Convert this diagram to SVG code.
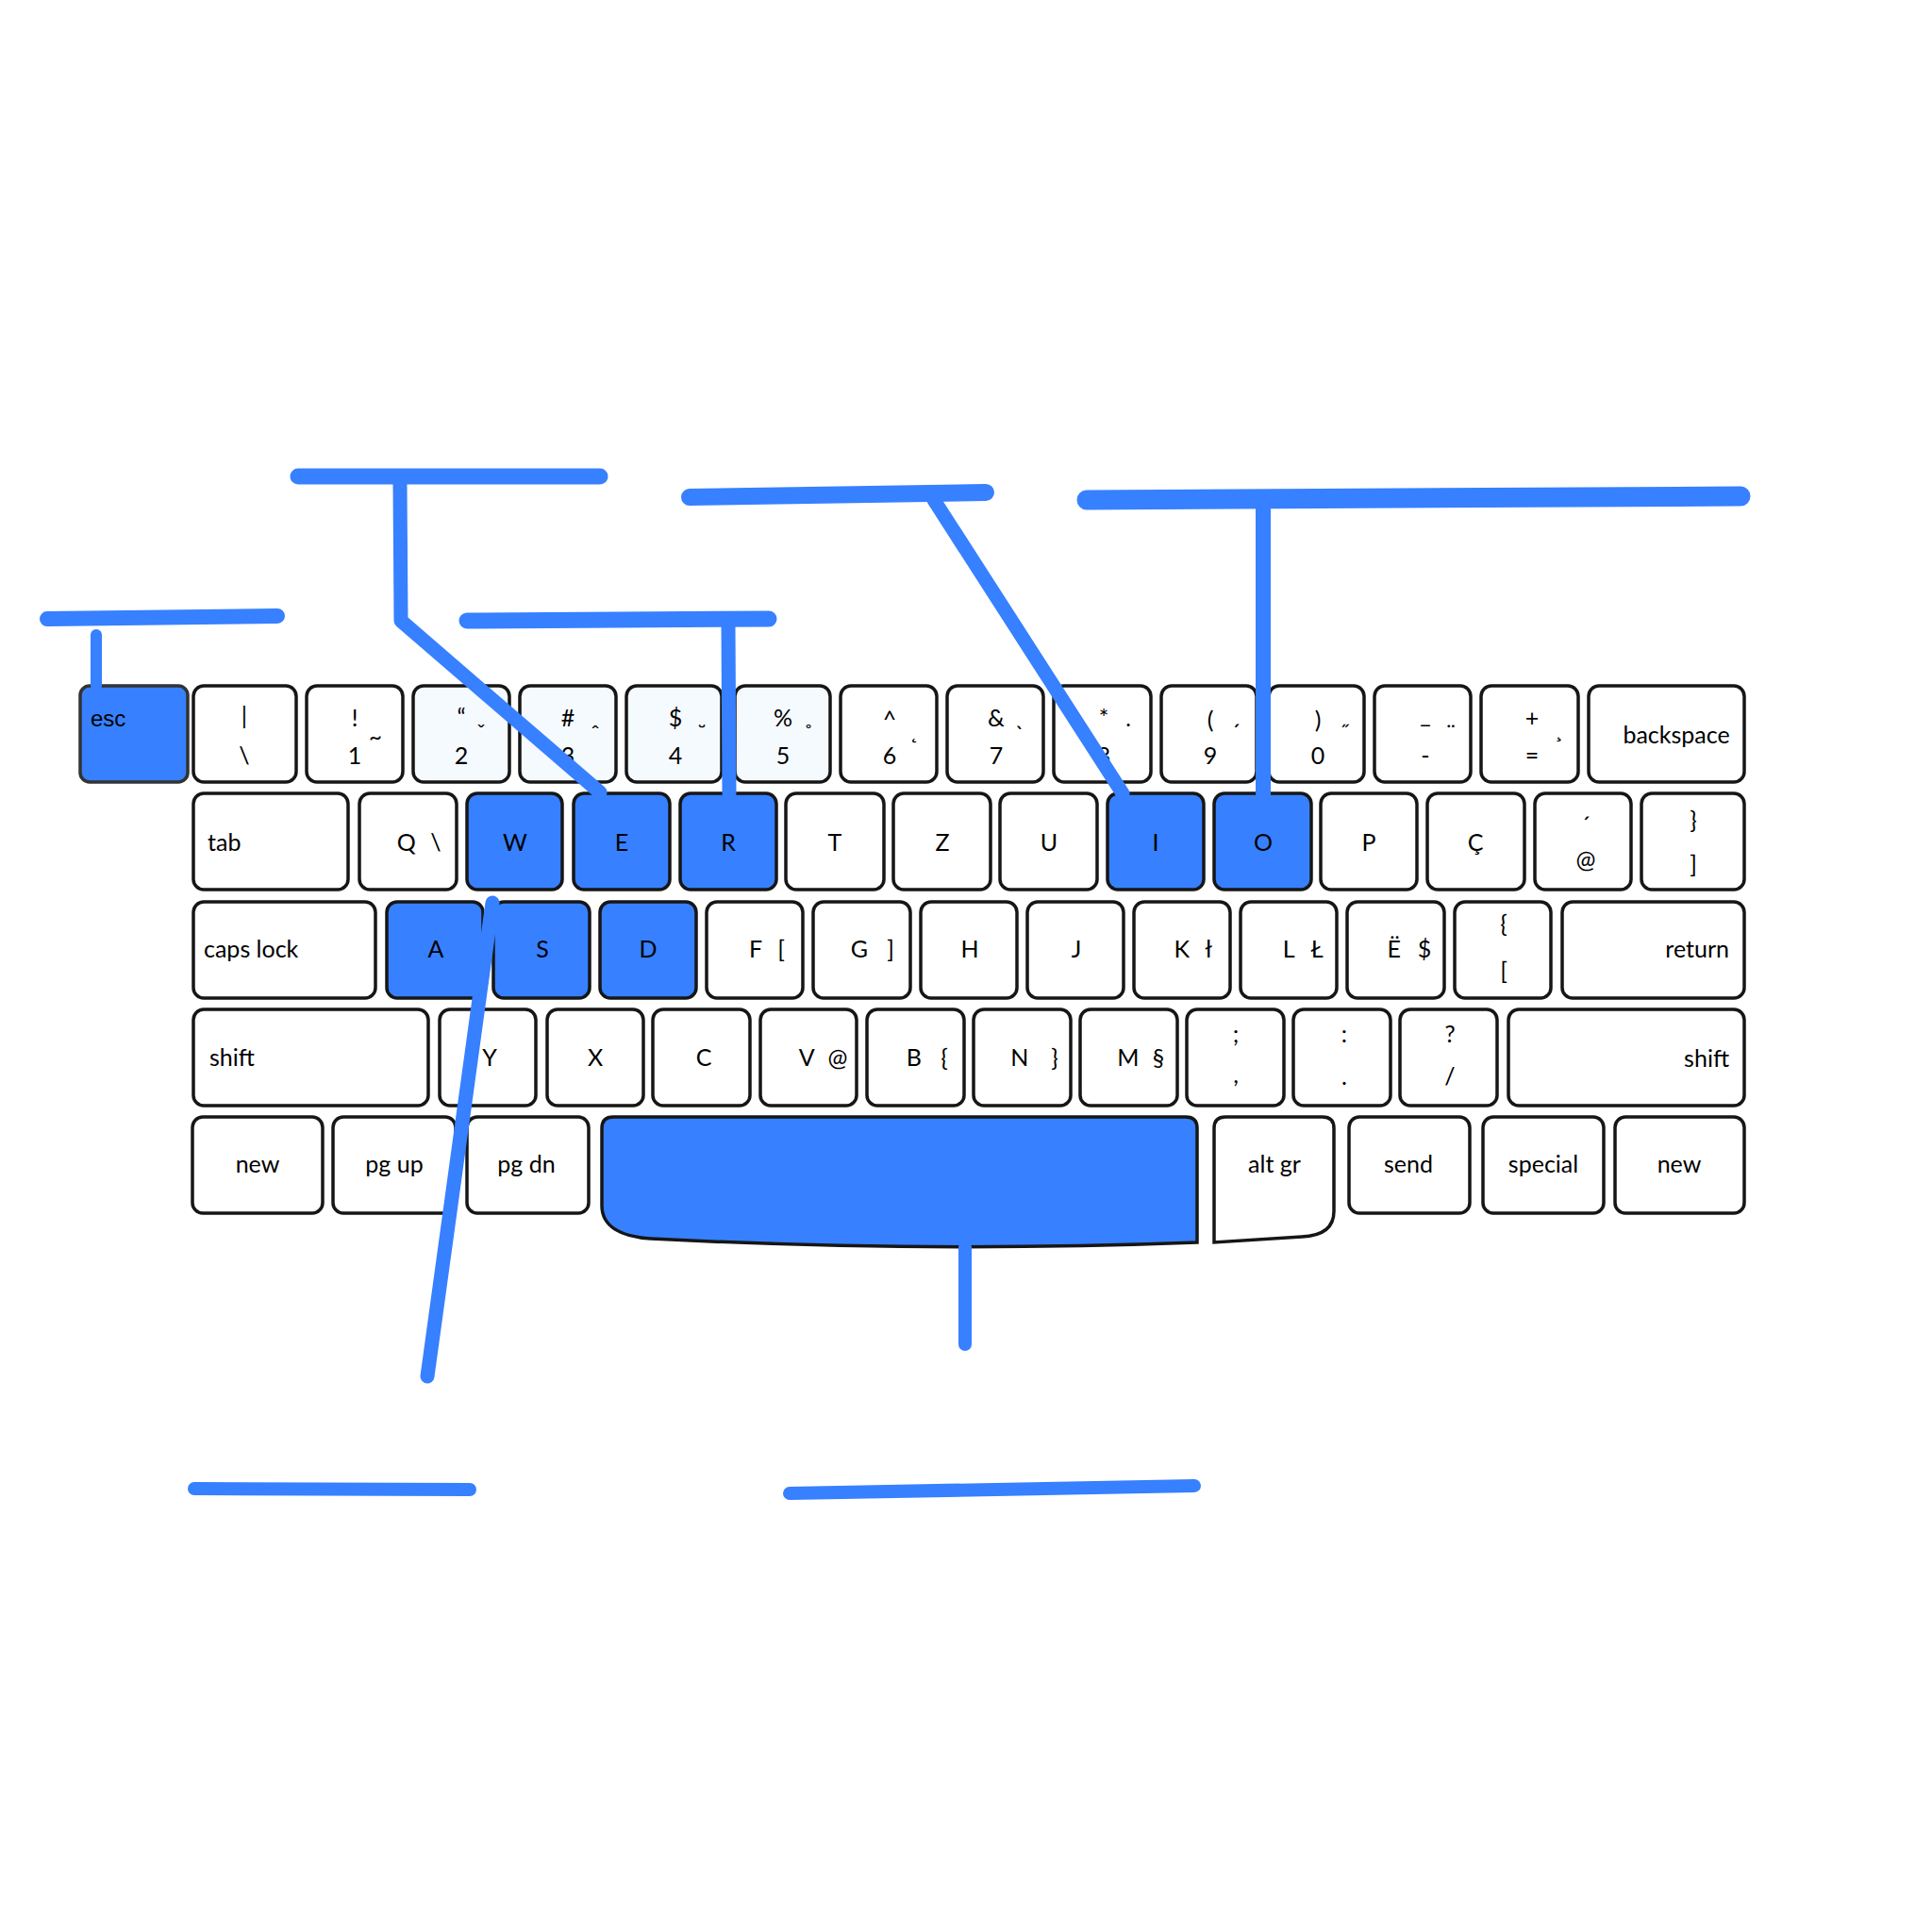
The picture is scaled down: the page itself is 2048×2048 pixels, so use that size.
<svg xmlns="http://www.w3.org/2000/svg" width="2048" height="2048" viewBox="0 0 2048 2048">
<style>
.k{fill:#ffffff;stroke:#161616;stroke-width:3.5}
.l{fill:#f5fafe;stroke:#161616;stroke-width:3.5}
.b{fill:#3780ff;stroke:#161616;stroke-width:3.5}
text{font-family:Lato,"Open Sans","Liberation Sans",sans-serif;font-size:25px;fill:#000}
.c{text-anchor:middle}
.s{font-size:24px;text-anchor:middle}
.e{text-anchor:end}
.esc{font-family:"Liberation Sans",Arial,sans-serif;font-size:24px}
.cn{fill:none;stroke:#3780ff;stroke-linecap:round;stroke-linejoin:round}
</style>
<rect width="2048" height="2048" fill="#ffffff"/>
<g id="keys">
<g id="k-esc"><rect class="b" x="85" y="727" width="114" height="102" rx="10" style="stroke:#333"/><text class="esc" x="96" y="770">esc</text></g>
<g id="k-pipe"><rect class="k" x="205" y="727" width="109" height="102" rx="11"/><text class="c" x="259" y="768">|</text><text class="c" x="259" y="810">\</text></g>
<g id="k-1"><rect class="k" x="325" y="727" width="102" height="102" rx="11"/><text class="c" x="376" y="770">!</text><text class="c" x="376" y="810">1</text><text class="s" x="398" y="789">~</text></g>
<g id="k-2"><rect class="l" x="438" y="727" width="102" height="102" rx="11"/><text class="c" x="489" y="769">“</text><text class="c" x="489" y="810">2</text><text class="s" x="510" y="785">ˇ</text></g>
<g id="k-3"><rect class="l" x="551" y="727" width="102" height="102" rx="11"/><text class="c" x="602" y="770">#</text><text class="c" x="602" y="810">3</text><text class="s" x="631" y="786">ˆ</text></g>
<g id="k-4"><rect class="l" x="664" y="727" width="101" height="102" rx="11"/><text class="c" x="716" y="770">$</text><text class="c" x="716" y="810">4</text><text class="s" x="744" y="785">˘</text></g>
<g id="k-5"><rect class="l" x="779" y="727" width="101" height="102" rx="11"/><text class="c" x="830" y="770">%</text><text class="c" x="830" y="810">5</text><text class="s" x="857" y="785">˚</text></g>
<g id="k-6"><rect class="k" x="891" y="727" width="102" height="102" rx="11"/><text class="c" x="943" y="772">^</text><text class="c" x="943" y="810">6</text><text class="s" x="969" y="783">˛</text></g>
<g id="k-7"><rect class="k" x="1004" y="727" width="102" height="102" rx="11"/><text class="c" x="1056" y="770">&amp;</text><text class="c" x="1056" y="810">7</text><text class="s" x="1081" y="787">`</text></g>
<g id="k-8"><rect class="k" x="1117" y="727" width="103" height="102" rx="11"/><text class="c" x="1170" y="770">*</text><text class="c" x="1170" y="810">8</text><text class="s" x="1196" y="784">˙</text></g>
<g id="k-9"><rect class="k" x="1231" y="727" width="101" height="102" rx="11"/><text class="c" x="1283" y="772">(</text><text class="c" x="1283" y="810">9</text><text class="s" x="1310" y="785">´</text></g>
<g id="k-0"><rect class="k" x="1345" y="727" width="101" height="102" rx="11"/><text class="c" x="1397" y="772">)</text><text class="c" x="1397" y="810">0</text><text class="s" x="1425" y="785">˝</text></g>
<g id="k-minus"><rect class="k" x="1457" y="727" width="102" height="102" rx="11"/><text class="c" x="1511" y="766">_</text><text class="c" x="1511" y="810">-</text><text class="s" x="1538" y="785">¨</text></g>
<g id="k-plus"><rect class="k" x="1570" y="727" width="103" height="102" rx="11"/><text class="c" x="1624" y="770">+</text><text class="c" x="1624" y="810">=</text><text class="s" x="1652" y="782">¸</text></g>
<g id="k-backspace"><rect class="k" x="1684" y="727" width="165" height="102" rx="11"/><text class="c" x="1777" y="788">backspace</text></g>

<g id="k-tab"><rect class="k" x="205" y="841" width="164" height="102" rx="11"/><text x="220" y="902">tab</text></g>
<g id="k-q"><rect class="k" x="381" y="841" width="103" height="102" rx="11"/><text class="c" y="902"><tspan x="434">Q</tspan> <tspan x="462">\</tspan></text></g>
<g id="k-w"><rect class="b" x="495" y="841" width="101" height="102" rx="11"/><text class="c" x="546" y="902">W</text></g>
<g id="k-e"><rect class="b" x="608" y="841" width="102" height="102" rx="11"/><text class="c" x="659" y="902">E</text></g>
<g id="k-r"><rect class="b" x="721" y="841" width="102" height="102" rx="11"/><text class="c" x="772" y="902">R</text></g>
<g id="k-t"><rect class="k" x="833" y="841" width="104" height="102" rx="11"/><text class="c" x="885" y="902">T</text></g>
<g id="k-z"><rect class="k" x="947" y="841" width="103" height="102" rx="11"/><text class="c" x="999" y="902">Z</text></g>
<g id="k-u"><rect class="k" x="1060" y="841" width="103" height="102" rx="11"/><text class="c" x="1112" y="902">U</text></g>
<g id="k-i"><rect class="b" x="1174" y="841" width="102" height="102" rx="11"/><text class="c" x="1225" y="902">I</text></g>
<g id="k-o"><rect class="b" x="1287" y="841" width="103" height="102" rx="11"/><text class="c" x="1339" y="902">O</text></g>
<g id="k-p"><rect class="k" x="1400" y="841" width="102" height="102" rx="11"/><text class="c" x="1451" y="902">P</text></g>
<g id="k-cc"><rect class="k" x="1513" y="841" width="103" height="102" rx="11"/><text class="c" x="1564" y="902">Ç</text></g>
<g id="k-at"><rect class="k" x="1627" y="841" width="102" height="102" rx="11"/><text class="c" x="1681" y="884">´</text><text class="c" x="1681" y="920">@</text></g>
<g id="k-rbrace"><rect class="k" x="1740" y="841" width="109" height="102" rx="11"/><text class="c" x="1795" y="878">}</text><text class="c" x="1795" y="925">]</text></g>

<g id="k-caps"><rect class="k" x="205" y="956" width="193" height="102" rx="11"/><text x="216" y="1015">caps lock</text></g>
<g id="k-a"><rect class="b" x="410" y="956" width="102" height="102" rx="11"/><text class="c" x="462" y="1015">A</text></g>
<g id="k-s"><rect class="b" x="523" y="956" width="102" height="102" rx="11"/><text class="c" x="575" y="1015">S</text></g>
<g id="k-d"><rect class="b" x="636" y="956" width="102" height="102" rx="11"/><text class="c" x="687" y="1015">D</text></g>
<g id="k-f"><rect class="k" x="749" y="956" width="102" height="102" rx="11"/><text class="c" y="1015"><tspan x="804">F</tspan> <tspan x="828">[</tspan></text></g>
<g id="k-g"><rect class="k" x="862" y="956" width="103" height="102" rx="11"/><text class="c" y="1015"><tspan x="914">G</tspan> <tspan x="944">]</tspan></text></g>
<g id="k-h"><rect class="k" x="976" y="956" width="102" height="102" rx="11"/><text class="c" x="1028" y="1015">H</text></g>
<g id="k-j"><rect class="k" x="1089" y="956" width="102" height="102" rx="11"/><text class="c" x="1141" y="1015">J</text></g>
<g id="k-k"><rect class="k" x="1202" y="956" width="102" height="102" rx="11"/><text class="c" y="1015"><tspan x="1256">K</tspan> <tspan x="1281">ł</tspan></text></g>
<g id="k-l"><rect class="k" x="1315" y="956" width="102" height="102" rx="11"/><text class="c" y="1015"><tspan x="1369">L</tspan> <tspan x="1396">Ł</tspan></text></g>
<g id="k-ee"><rect class="k" x="1428" y="956" width="103" height="102" rx="11"/><text class="c" y="1015"><tspan x="1481">Ë</tspan> <tspan x="1510">$</tspan></text></g>
<g id="k-lbrace"><rect class="k" x="1542" y="956" width="102" height="102" rx="11"/><text class="c" x="1594" y="988">{</text><text class="c" x="1594" y="1038">[</text></g>
<g id="k-return"><rect class="k" x="1656" y="956" width="193" height="102" rx="11"/><text class="e" x="1833" y="1015">return</text></g>

<g id="k-shift-l"><rect class="k" x="205" y="1070" width="249" height="102" rx="11"/><text x="222" y="1130">shift</text></g>
<g id="k-y"><rect class="k" x="466" y="1070" width="102" height="102" rx="11"/><text class="c" x="519" y="1130">Y</text></g>
<g id="k-x"><rect class="k" x="580" y="1070" width="102" height="102" rx="11"/><text class="c" x="631" y="1130">X</text></g>
<g id="k-c"><rect class="k" x="692" y="1070" width="103" height="102" rx="11"/><text class="c" x="746" y="1130">C</text></g>
<g id="k-v"><rect class="k" x="806" y="1070" width="102" height="102" rx="11"/><text class="c" y="1130"><tspan x="858">V</tspan> <tspan x="888">@</tspan></text></g>
<g id="k-b"><rect class="k" x="919" y="1070" width="103" height="102" rx="11"/><text class="c" y="1130"><tspan x="972">B</tspan> <tspan x="1001">{</tspan></text></g>
<g id="k-n"><rect class="k" x="1032" y="1070" width="103" height="102" rx="11"/><text class="c" y="1130"><tspan x="1084">N</tspan> <tspan x="1118">}</tspan></text></g>
<g id="k-m"><rect class="k" x="1145" y="1070" width="103" height="102" rx="11"/><text class="c" y="1130"><tspan x="1199">M</tspan> <tspan x="1228">§</tspan></text></g>
<g id="k-semi"><rect class="k" x="1258" y="1070" width="103" height="102" rx="11"/><text class="c" x="1310" y="1105">;</text><text class="c" x="1310" y="1148">,</text></g>
<g id="k-colon"><rect class="k" x="1371" y="1070" width="103" height="102" rx="11"/><text class="c" x="1425" y="1105">:</text><text class="c" x="1425" y="1150">.</text></g>
<g id="k-quest"><rect class="k" x="1484" y="1070" width="103" height="102" rx="11"/><text class="c" x="1537" y="1105">?</text><text class="c" x="1537" y="1150">/</text></g>
<g id="k-shift-r"><rect class="k" x="1599" y="1070" width="250" height="102" rx="11"/><text class="e" x="1833" y="1131">shift</text></g>

<g id="k-new-l"><rect class="k" x="204" y="1184" width="138" height="102" rx="11"/><text class="c" x="273" y="1243">new</text></g>
<g id="k-pgup"><rect class="k" x="353" y="1184" width="130" height="102" rx="11"/><text class="c" x="418" y="1243">pg up</text></g>
<g id="k-pgdn"><rect class="k" x="495" y="1184" width="129" height="102" rx="11"/><text class="c" x="558" y="1243">pg dn</text></g>
<g id="k-space"><path class="b" d="M638,1196 Q638,1184 650,1184 L1257,1184 Q1269,1184 1269,1196 L1269,1317 Q980,1328 690,1313 C658,1311 638,1300 638,1278 Z"/></g>
<g id="k-altgr"><path class="k" d="M1287,1317 L1287,1196 Q1287,1184 1299,1184 L1402,1184 Q1414,1184 1414,1196 L1414,1284 C1414,1302 1402,1310 1380,1311 Z"/><text class="c" x="1351" y="1243">alt gr</text></g>
<g id="k-send"><rect class="k" x="1430" y="1184" width="128" height="102" rx="11"/><text class="c" x="1493" y="1243">send</text></g>
<g id="k-special"><rect class="k" x="1572" y="1184" width="128" height="102" rx="11"/><text class="c" x="1636" y="1243">special</text></g>
<g id="k-new-r"><rect class="k" x="1712" y="1184" width="137" height="102" rx="11"/><text class="c" x="1780" y="1243">new</text></g>
</g>
<g id="connectors" class="cn">
<path d="M50,656 L294,653" stroke-width="16"/>
<path d="M102,673 L102,727" stroke-width="12"/>
<path d="M316,505 L636,505" stroke-width="17"/>
<path d="M424,513 L425,658 L636,840" stroke-width="15"/>
<path d="M495,658 L815,656" stroke-width="17"/>
<path d="M772,662 L773,841" stroke-width="15"/>
<path d="M731,527 L1045,522" stroke-width="18"/>
<path d="M990,530 L1190,841" stroke-width="15"/>
<path d="M1152,530 L1845,526" stroke-width="21"/>
<path d="M1339,535 L1339,842" stroke-width="16"/>
<path d="M522,957 L453,1459" stroke-width="15"/>
<path d="M206,1578 L498,1579" stroke-width="14"/>
<path d="M1023,1322 L1023,1425" stroke-width="14"/>
<path d="M837,1583 L1266,1575" stroke-width="14"/>
</g>
</svg>
